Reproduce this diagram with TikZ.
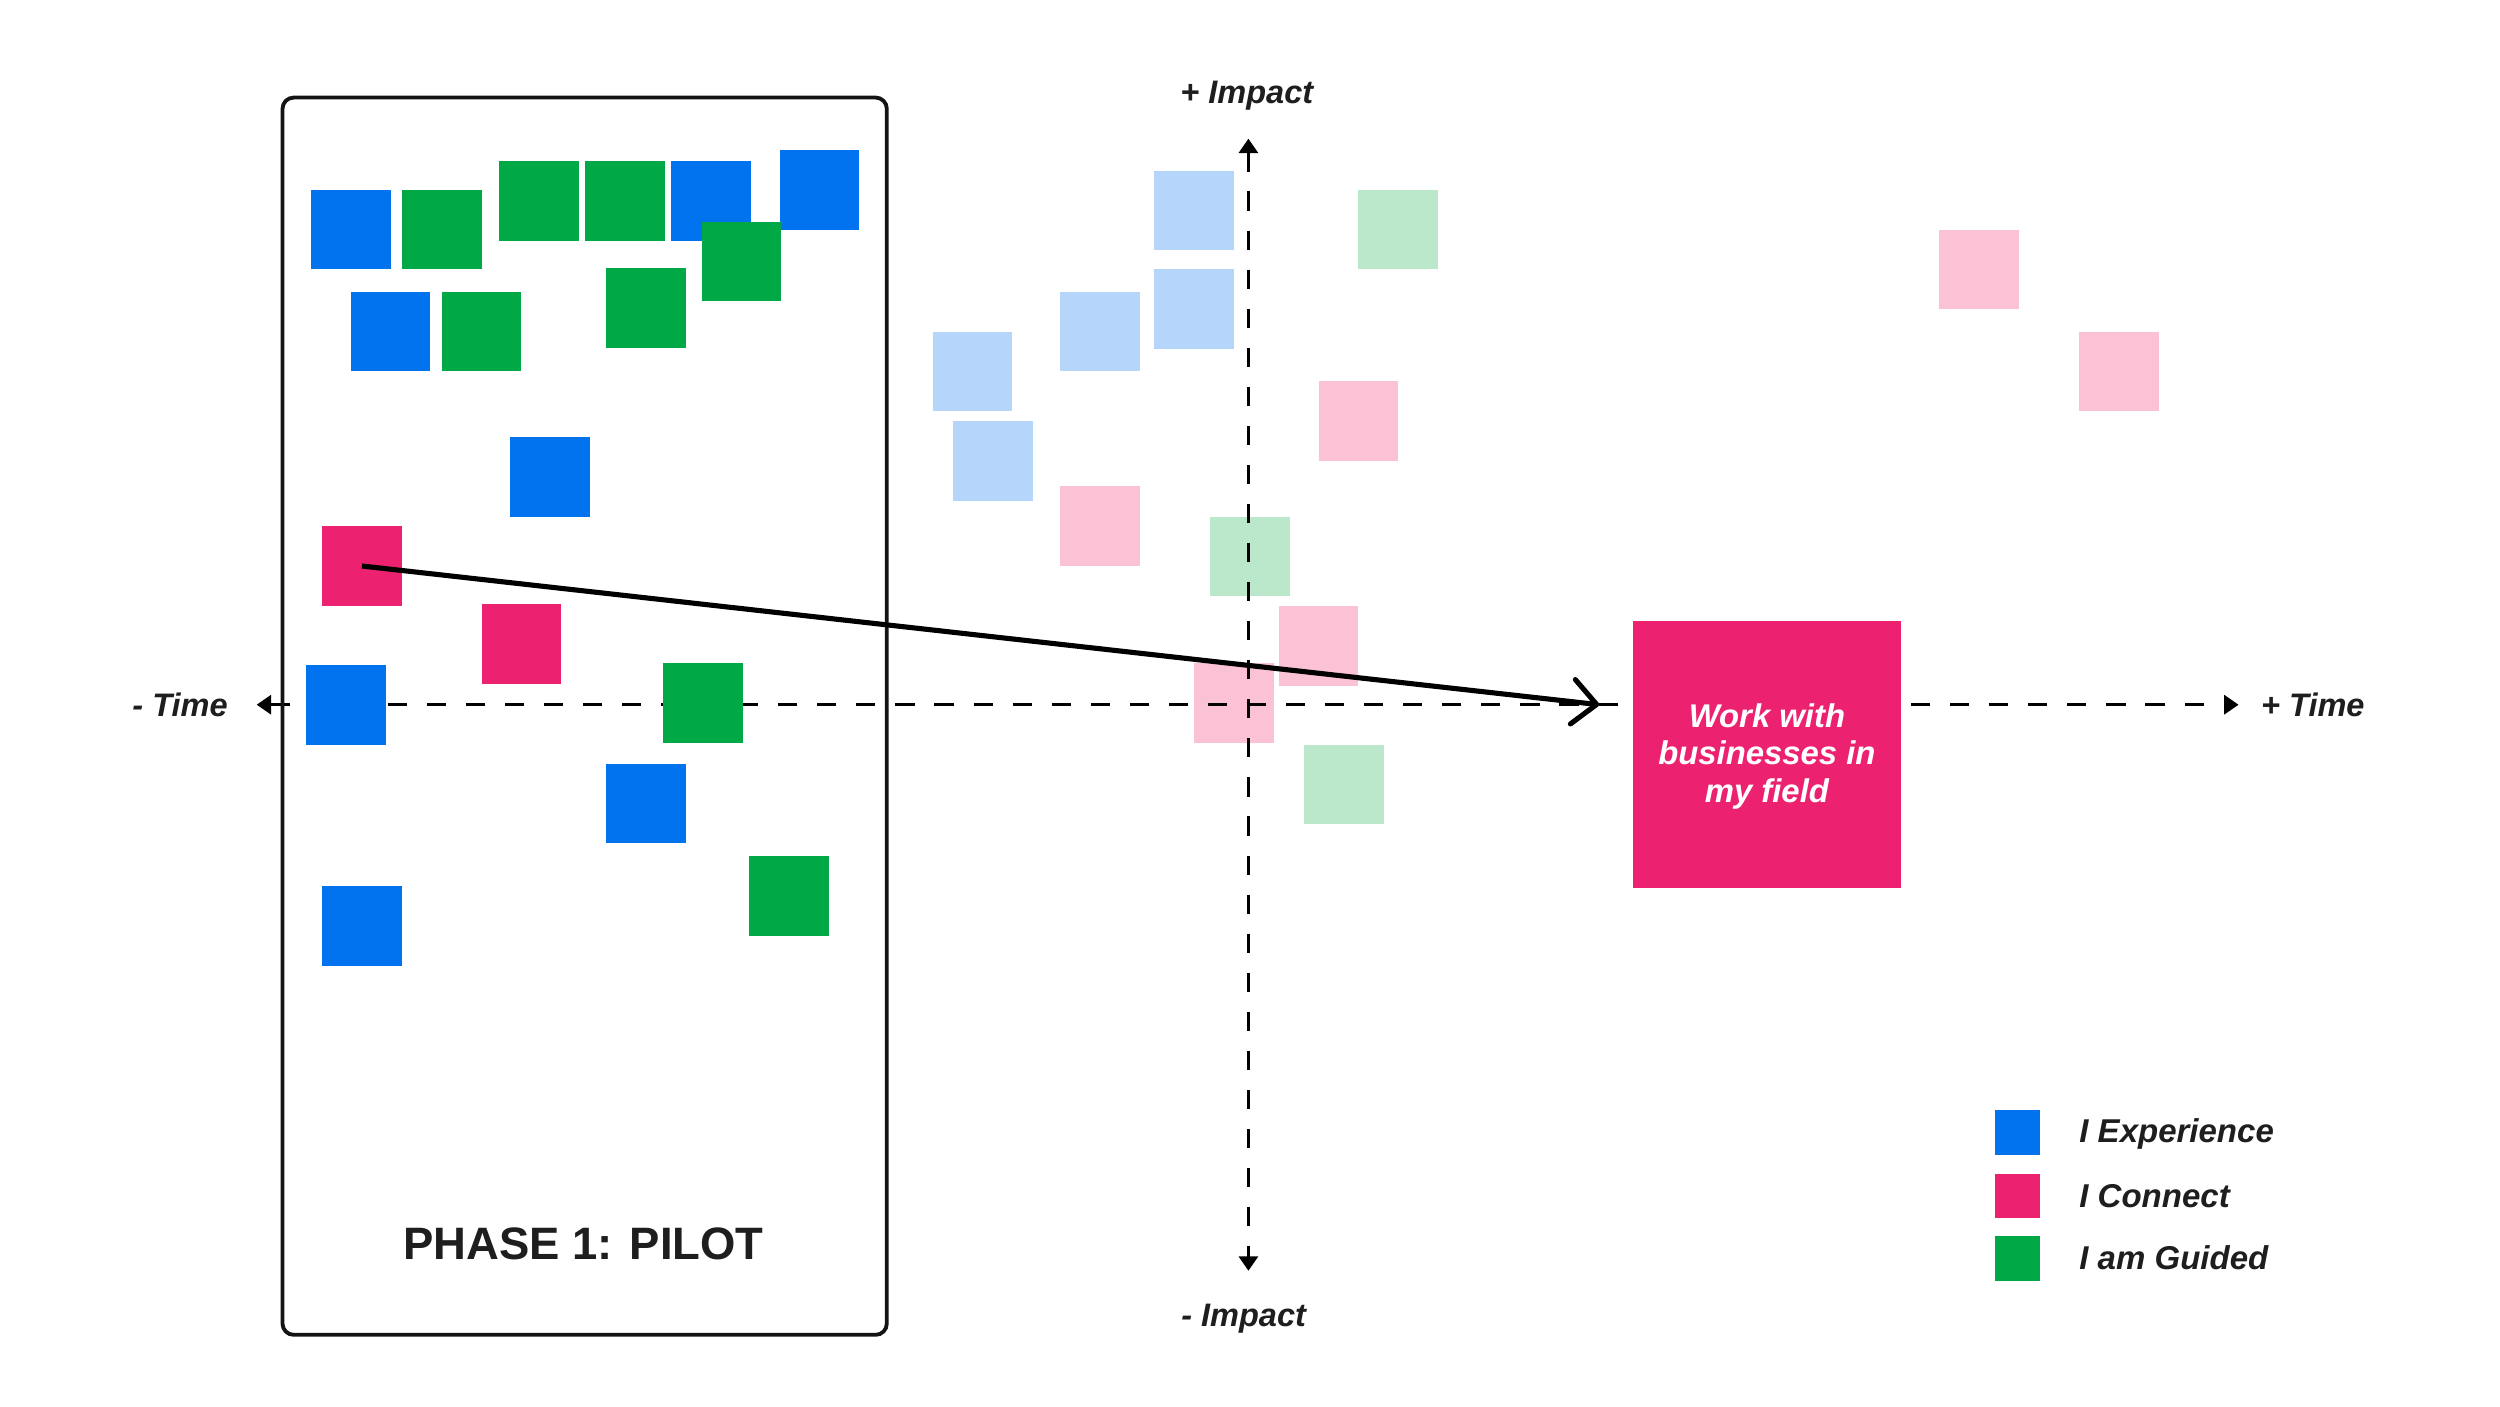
\documentclass[tikz,border=0pt]{standalone}
\usepackage{fontspec}
\setmainfont{Liberation Sans}
\usetikzlibrary{arrows.meta}
\definecolor{cblue}{HTML}{0273EE}
\definecolor{cgreen}{HTML}{00A846}
\definecolor{cpink}{HTML}{EC2270}
\definecolor{lblue}{HTML}{B5D5FA}
\definecolor{lgreen}{HTML}{BBE7CB}
\definecolor{lpink}{HTML}{FBC2D6}
\definecolor{ink}{HTML}{1E1E1E}
\begin{document}
\begin{tikzpicture}[x=1pt,y=-1pt,
  note/.style={minimum width=50pt,minimum height=50pt,inner sep=0pt,outer sep=0pt,anchor=north west},
  bnote/.style={note,fill=cblue},
  gnote/.style={note,fill=cgreen},
  pnote/.style={note,fill=cpink},
  lbnote/.style={note,fill=lblue},
  lgnote/.style={note,fill=lgreen},
  lpnote/.style={note,fill=lpink},
  key/.style={minimum width=28pt,minimum height=28pt,inner sep=0pt,anchor=north west},
  lab/.style={font=\fontsize{20.4}{24}\selectfont\bfseries\itshape,text=ink,inner sep=0pt},
  keylab/.style={font=\fontsize{20.7}{24}\selectfont\bfseries\itshape,text=ink,inner sep=0pt,anchor=west},
  axis/.style={line width=1.6pt,dash pattern=on 12pt off 12.5pt,{Triangle[length=9pt,width=12pt]}-{Triangle[length=9pt,width=12pt]}}
]
\useasboundingbox (0,0) rectangle (1568,882);
\fill[white] (0,0) rectangle (1568,882);

% faded notes
\node[lbnote] (f1) at (724,107) {};
\node[lbnote] (f2) at (724,169) {};
\node[lbnote] (f3) at (665,183) {};
\node[lbnote] (f4) at (585,208) {};
\node[lbnote] (f5) at (598,264) {};
\node[lgnote] (f6) at (852,119) {};
\node[lgnote] (f7) at (759,324) {};
\node[lgnote] (f8) at (818,467) {};
\node[lpnote] (f9) at (827,239) {};
\node[lpnote] (f10) at (665,305) {};
\node[lpnote] (f11) at (802,380) {};
\node[lpnote] (f12) at (749,416) {};
\node[lpnote] (f13) at (1216,144) {};
\node[lpnote] (f14) at (1304,208) {};

% axes
\coordinate (tl) at (161,442);
\coordinate (tr) at (1404,442);
\coordinate (it) at (783,87);
\coordinate (ib) at (783,797);
\draw[axis] (tl) -- (tr);
\draw[axis] (it) -- (ib);
\node[lab,anchor=east] (tminus) at (143,442) {- Time};
\node[lab,anchor=west] (tplus) at (1418,442) {+ Time};
\node[lab] (iplus) at (782,60) {+ Impact};
\node[lab] (iminus) at (780,827) {- Impact};

% pilot notes
\node[bnote] (n1) at (195,119) {};
\node[gnote] (n2) at (252,119) {};
\node[gnote] (n3) at (313,101) {};
\node[gnote] (n4) at (367,101) {};
\node[bnote] (n5) at (421,101) {};
\node[bnote] (n6) at (489,94) {};
\node[gnote] (n7) at (440,139) {};
\node[bnote] (n8) at (220,183) {};
\node[gnote] (n9) at (277,183) {};
\node[gnote] (n10) at (380,168) {};
\node[bnote] (n11) at (320,274) {};
\node[pnote] (n12) at (202,330) {};
\node[pnote] (n13) at (302,379) {};
\node[bnote] (n14) at (192,417) {};
\node[gnote] (n15) at (416,416) {};
\node[bnote] (n16) at (380,479) {};
\node[gnote] (n17) at (470,537) {};
\node[bnote] (n18) at (202,556) {};

% frame
\node[draw=black!92,line width=2.4pt,rounded corners=7pt,minimum width=379pt,minimum height=776pt,inner sep=0pt,anchor=north west] (frame) at (176,60) {};
\node[font=\fontsize{28.5}{34}\selectfont\bfseries,text=ink,inner sep=0pt] (phase) at (366,780) {PHASE 1: PILOT};

% goal box
\node[fill=cpink,minimum width=168pt,minimum height=168pt,inner sep=0pt,anchor=north west] (work) at (1024,389) {};
\node[text=white,font=\fontsize{20.6}{23.5}\selectfont\bfseries\itshape,align=center,inner sep=0pt] (worktext) at ([yshift=-1pt]work.center) {Work with\\businesses in\\my field};

% arrow
\coordinate (tip) at (1003,442);
\draw[line width=3.2pt,-{Straight Barb[length=15pt,width=28pt,round]}] (n12.center) -- (tip);

% legend
\node[key,fill=cblue] (k1) at (1251,696) {};
\node[key,fill=cpink] (k2) at (1251,736) {};
\node[key,fill=cgreen] (k3) at (1251,775) {};
\node[keylab] (kl1) at (1304,711) {I Experience};
\node[keylab] (kl2) at (1304,750) {I Connect};
\node[keylab] (kl3) at (1304,789) {I am Guided};
\end{tikzpicture}
\end{document}
